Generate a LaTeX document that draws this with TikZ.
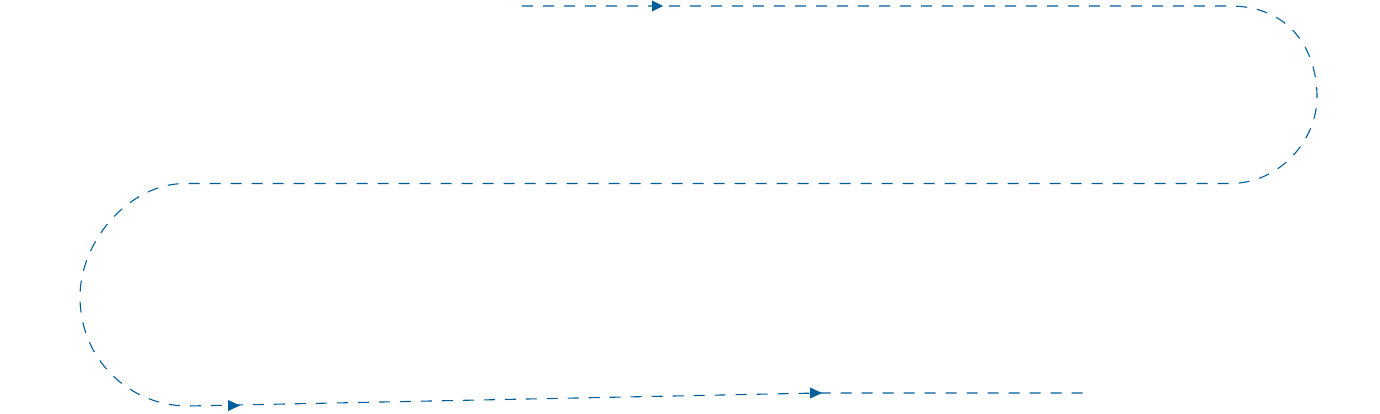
\documentclass[tikz,border=0pt]{standalone}
\usetikzlibrary{arrows.meta}
\definecolor{pathblue}{RGB}{0,95,155}
\begin{document}
\begin{tikzpicture}[x=1pt,y=-1pt,
  route/.style={draw=pathblue,line width=1.1pt,dash pattern=on 11pt off 10pt},
  tip/.style={fill=pathblue,draw=none}]
\useasboundingbox (0,0) rectangle (1380,413);
\coordinate (s) at (522,6);
\coordinate (r1) at (1230,6);
\coordinate (r2) at (1230,183.5);
\coordinate (l1) at (185,183.5);
\coordinate (l2) at (188,406);
\coordinate (b1) at (818,393);
\coordinate (e) at (1088,393);
\path[route] (s) -- (r1)
  .. controls (1290,6) and (1317,50) .. (1317,97)
  .. controls (1317,140) and (1280,183.5) .. (r2)
  -- (l1)
  .. controls (130,183.5) and (80,240) .. (80,297)
  .. controls (80,360) and (130,406) .. (l2)
  -- (b1) -- (e);
\fill[tip] (663,6) -- (652,0.5) -- (652,11.5) -- cycle;
\fill[tip] (240,405.5) -- (228,400) -- (228,411) -- cycle;
\fill[tip] (822,393) -- (810,387.5) -- (810,398.5) -- cycle;
\end{tikzpicture}
\end{document}
